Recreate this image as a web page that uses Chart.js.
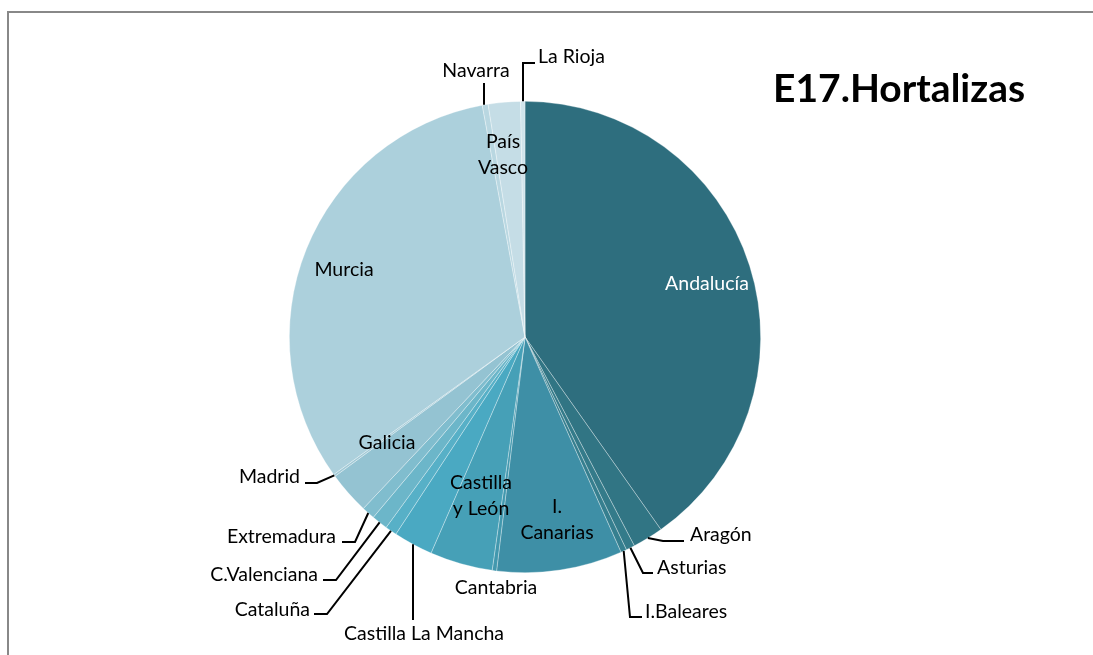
<!DOCTYPE html>
<html>
<head>
<meta charset="utf-8">
<style>
  body { margin: 0; background: #fff; }
</style>
</head>
<body>
<script src="https://cdn.jsdelivr.net/npm/chart.js"></script>
<canvas id="pieChart" width="1093" height="655"></canvas>

<script>
// share of each region (%)
const regions = ['Andalucía', 'Aragón', 'Asturias', 'I.Baleares', 'I. Canarias', 'Cantabria',
  'Castilla y León', 'Castilla La Mancha', 'Cataluña', 'C.Valenciana', 'Extremadura',
  'Galicia', 'Madrid', 'Murcia', 'Navarra', 'País Vasco', 'La Rioja'];
const shares = [40.2, 2.1, 0.6, 0.4, 8.6, 0.3, 4.3, 2.7, 0.8, 1.1, 0.9, 2.9, 0.15, 32.0, 0.4, 2.2, 0.3];
const chartTitle = 'E17.Hortalizas';

const sliceColors = ['#2e6e7e', '#317584', '#347b8a', '#367f8f', '#3e8fa6', '#4298ae',
  '#46a0b7', '#4aa9c2', '#57b0c7', '#6cb6c9', '#80bdce', '#94c3d2', '#a1c9d6',
  '#acd0dc', '#b9d7e1', '#c5dde6', '#d0e4eb'];

// where each label sits; leader = elbow points after the slice edge
const labelLayout = {
  'Andalucía': { x: 707, y: 284, align: 'center', color: '#fff' },
  'Aragón': { x: 690, y: 535, align: 'left', leader: [[663, 541], [684, 541]] },
  'Asturias': { x: 657, y: 568, align: 'left', leader: [[643, 573], [653, 573]] },
  'I.Baleares': { x: 645, y: 612, align: 'left', leader: [[630, 617], [642, 617]] },
  'I. Canarias': { x: 557, y: 507, align: 'center', lines: ['I.', 'Canarias'] },
  'Cantabria': { x: 496, y: 588, align: 'center' },
  'Castilla y León': { x: 481, y: 483, align: 'center', lines: ['Castilla', 'y León'] },
  'Castilla La Mancha': { x: 424, y: 634, align: 'center', leader: [[413, 620]], vertical: true },
  'Cataluña': { x: 310, y: 610, align: 'right', leader: [[327, 614], [314, 614]] },
  'C.Valenciana': { x: 318, y: 575, align: 'right', leader: [[336, 580], [323, 580]] },
  'Extremadura': { x: 336, y: 537, align: 'right', leader: [[355, 542], [342, 542]] },
  'Galicia': { x: 387, y: 443, align: 'center' },
  'Madrid': { x: 300, y: 477, align: 'right', leader: [[317, 483], [305, 483]] },
  'Murcia': { x: 344, y: 270, align: 'center' },
  'Navarra': { x: 476, y: 71, align: 'center', leader: [[484, 83]], vertical: true },
  'País Vasco': { x: 503, y: 142, align: 'center', lines: ['País', 'Vasco'] },
  'La Rioja': { x: 538, y: 57, align: 'left', leader: [[523, 63], [535, 63]], vertical: true }
};

const FONT = '19.5px Lato, "Open Sans", sans-serif';

const labelPlugin = {
  id: 'sliceLabels',
  afterDraw(chart) {
    const ctx = chart.ctx;
    ctx.save();

    // frame lines
    ctx.strokeStyle = '#888';
    ctx.lineWidth = 2;
    ctx.beginPath();
    ctx.moveTo(1093, 12);
    ctx.lineTo(8, 12);
    ctx.lineTo(8, 655);
    ctx.stroke();

    const meta = chart.getDatasetMeta(0);
    ctx.font = FONT;
    ctx.textBaseline = 'middle';
    ctx.lineWidth = 2;
    ctx.strokeStyle = '#000';

    meta.data.forEach((arc, i) => {
      const lay = labelLayout[regions[i]];
      if (!lay) return;
      if (lay.leader) {
        const p = arc.getProps(['x', 'y', 'startAngle', 'endAngle', 'outerRadius'], true);
        const mid = (p.startAngle + p.endAngle) / 2;
        let sx = p.x + Math.cos(mid) * p.outerRadius;
        let sy = p.y + Math.sin(mid) * p.outerRadius;
        if (lay.vertical) sx = lay.leader[0][0];
        ctx.beginPath();
        ctx.moveTo(sx, sy);
        lay.leader.forEach(pt => ctx.lineTo(pt[0], pt[1]));
        ctx.stroke();
      }
      ctx.fillStyle = lay.color || '#000';
      ctx.textAlign = lay.align;
      const lines = lay.lines || [regions[i]];
      lines.forEach((t, k) => ctx.fillText(t, lay.x, lay.y + k * 26));
    });

    // title
    ctx.font = 'bold 39px Lato, "Open Sans", sans-serif';
    ctx.fillStyle = '#000';
    ctx.textAlign = 'left';
    ctx.fillText(chartTitle, 773, 89);
    ctx.restore();
  }
};

new Chart(document.getElementById('pieChart'), {
  type: 'pie',
  data: {
    labels: regions,
    datasets: [{
      data: shares,
      backgroundColor: sliceColors,
      borderColor: 'rgba(255,255,255,0.45)',
      borderWidth: 0.7
    }]
  },
  options: {
    responsive: false,
    animation: false,
    layout: { padding: { left: 289, right: 332, top: 101, bottom: 82 } },
    plugins: {
      legend: { display: false },
      tooltip: { enabled: false },
      title: { display: false }
    }
  },
  plugins: [labelPlugin]
});
</script>
</body>
</html>
